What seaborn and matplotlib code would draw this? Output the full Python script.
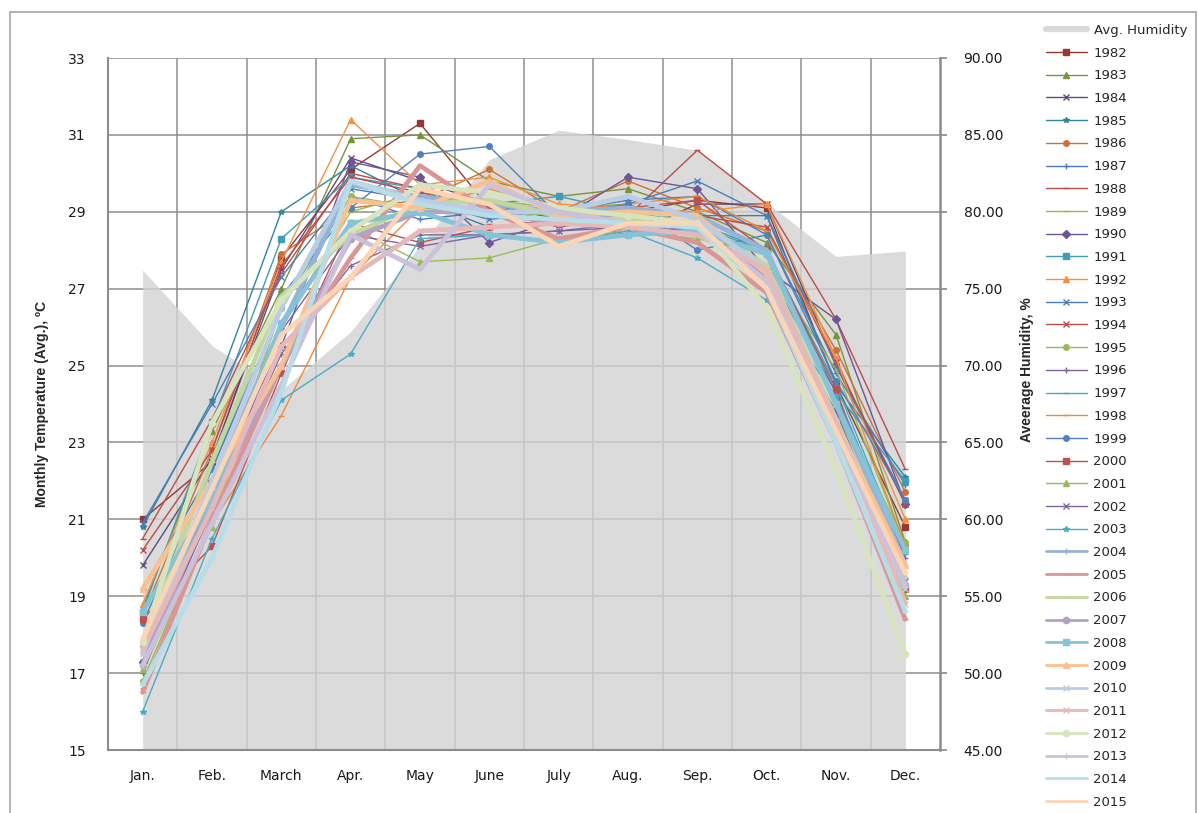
import numpy as np
import pandas as pd
import matplotlib
matplotlib.use("Agg")
import matplotlib.pyplot as plt
import seaborn as sns
from matplotlib.lines import Line2D
from matplotlib.patches import Rectangle

months = ["Jan.", "Feb.", "March", "Apr.", "May", "June", "July", "Aug.", "Sep.", "Oct.", "Nov.", "Dec."]
humidity = [76.2, 71.3, 68.4, 72.2, 77.8, 83.4, 85.3, 84.7, 84.0, 80.6, 77.1, 77.45]

t1982 = [21.0, 22.5, 27.8, 30.1, 31.3, 29.1, 28.9, 29.0, 29.3, 29.1, 24.5, 20.8]
t1983 = [18.7, 23.3, 27.0, 30.9, 31.0, 29.8, 29.4, 29.6, 29.0, 28.2, 25.8, 20.4]
t1984 = [19.8, 22.6, 27.5, 30.4, 29.8, 29.2, 28.8, 28.4, 29.2, 29.2, 25.0, 21.4]
t1985 = [20.8, 24.1, 29.0, 30.2, 29.3, 28.6, 28.8, 29.1, 28.9, 28.9, 24.5, 22.1]
t1986 = [18.5, 22.8, 27.9, 29.1, 29.3, 30.1, 29.0, 29.8, 29.1, 28.5, 25.4, 21.7]
t1987 = [19.2, 22.3, 26.5, 29.4, 28.8, 29.0, 29.0, 29.3, 29.4, 28.4, 24.8, 21.9]
t1988 = [20.5, 23.6, 27.4, 30.0, 29.6, 29.1, 28.6, 28.9, 30.6, 29.2, 26.2, 22.3]
t1989 = [17.5, 21.5, 26.0, 29.0, 29.5, 29.3, 29.1, 29.2, 28.6, 27.6, 24.9, 20.3]
t1990 = [17.3, 22.0, 25.5, 30.3, 29.9, 28.2, 28.8, 29.9, 29.6, 27.5, 26.2, 21.4]
t1991 = [18.6, 23.5, 28.3, 29.9, 29.6, 29.2, 29.4, 29.0, 28.7, 28.0, 24.3, 22.0]
t1992 = [18.8, 23.0, 27.7, 31.4, 29.7, 29.9, 29.2, 29.1, 29.0, 29.2, 25.2, 21.0]
t1993 = [20.9, 24.0, 27.3, 29.6, 29.3, 28.8, 29.0, 29.2, 29.8, 28.9, 25.0, 21.5]
t1994 = [20.2, 22.8, 27.6, 29.9, 29.5, 29.1, 28.7, 29.0, 28.9, 28.6, 25.1, 21.4]
t1995 = [16.8, 21.0, 26.5, 29.4, 29.1, 29.0, 28.9, 28.8, 28.7, 27.9, 24.0, 20.4]
t1996 = [17.0, 21.3, 25.3, 27.6, 28.4, 28.4, 28.5, 28.6, 28.5, 27.5, 24.3, 20.0]
t1997 = [17.7, 21.6, 26.0, 28.7, 29.0, 29.2, 28.9, 28.8, 28.6, 28.0, 24.5, 20.1]
t1998 = [16.6, 20.9, 23.7, 27.3, 29.1, 29.6, 29.0, 29.2, 29.4, 28.5, 25.2, 20.3]
t1999 = [18.3, 22.3, 26.8, 29.1, 30.5, 30.7, 28.9, 29.2, 28.0, 28.4, 24.6, 21.5]
t2000 = [18.4, 20.3, 24.8, 28.7, 28.2, 28.6, 28.8, 29.1, 29.3, 28.0, 24.4, 19.2]
t2001 = [17.1, 20.8, 26.7, 28.6, 27.7, 27.8, 28.3, 28.5, 28.3, 27.9, 23.9, 19.0]
t2002 = [17.3, 21.2, 25.9, 28.4, 28.1, 28.4, 28.5, 28.7, 28.5, 27.0, 23.8, 19.4]
t2003 = [16.0, 20.5, 24.1, 25.3, 28.3, 28.4, 28.2, 28.5, 27.8, 26.7, 24.2, 20.2]
t2004 = [17.7, 21.8, 26.0, 29.7, 29.4, 29.2, 29.0, 29.1, 28.9, 28.0, 24.0, 19.8]
t2005 = [16.5, 21.0, 25.0, 27.8, 30.2, 29.0, 28.3, 28.6, 28.2, 26.9, 23.0, 18.4]
t2006 = [17.8, 22.5, 26.8, 28.4, 29.2, 29.3, 28.9, 28.8, 28.7, 27.6, 23.6, 19.5]
t2007 = [17.2, 21.5, 25.0, 28.3, 29.0, 29.0, 28.7, 29.0, 28.5, 27.3, 23.2, 19.3]
t2008 = [18.6, 21.5, 26.1, 28.7, 29.0, 28.4, 28.2, 28.4, 28.5, 27.9, 24.0, 20.2]
t2009 = [19.2, 22.0, 25.0, 29.3, 29.1, 29.8, 28.9, 29.0, 28.9, 27.4, 23.5, 19.8]
t2010 = [17.5, 22.0, 26.5, 29.8, 29.3, 29.0, 29.0, 29.4, 28.8, 27.5, 23.5, 19.2]
t2011 = [17.6, 21.3, 25.5, 27.3, 28.5, 28.6, 28.7, 28.6, 28.4, 27.5, 23.5, 18.8]
t2012 = [17.8, 23.5, 26.7, 28.5, 29.7, 29.5, 29.1, 28.9, 28.7, 26.5, 22.3, 17.5]
t2013 = [17.2, 20.9, 24.5, 28.4, 27.5, 29.7, 29.0, 28.7, 28.6, 27.2, 23.2, 19.3]
t2014 = [16.7, 20.0, 24.3, 29.8, 29.2, 28.9, 28.8, 28.7, 28.6, 27.0, 23.0, 18.6]
t2015 = [17.9, 21.8, 25.8, 27.3, 29.6, 29.2, 28.1, 28.7, 28.7, 27.0, 23.3, 19.6]

years = list(range(1982, 2016))
temps = [t1982, t1983, t1984, t1985, t1986, t1987, t1988, t1989, t1990, t1991,
         t1992, t1993, t1994, t1995, t1996, t1997, t1998, t1999, t2000, t2001,
         t2002, t2003, t2004, t2005, t2006, t2007, t2008, t2009, t2010, t2011,
         t2012, t2013, t2014, t2015]

colors = ["#953735", "#77933C", "#604A7B", "#31859C", "#CD7236", "#4A7EBB",
          "#BE4B48", "#98B954", "#6E5596", "#3F9DB8", "#F39244", "#4A7EBB",
          "#BE4B48", "#98B954", "#8064A2", "#46AAC5", "#F08A3A", "#4F81BD",
          "#C0504D", "#9BBB59", "#8064A2", "#4BACC6", "#95B3D7", "#D99694",
          "#C3D69B", "#B3A2C7", "#86C3D6", "#FAC090", "#B9CDE5", "#E6B9B8",
          "#D7E4BD", "#CCC1DA", "#B7DEE8", "#FCD5B5"]
markers = ["s", "^", "x", "*", "o", "+", "_", "_", "D", "s", "^", "x",
           "x", "o", "+", "_", "_", "o", "s", "^", "x", "*", "+", "_",
           "_", "o", "s", "^", "x", "x", "o", "+", "_", "_"]

df = pd.DataFrame({
    "month_idx": np.tile(np.arange(len(months)), len(years)),
    "temp": np.concatenate(temps),
    "year": np.repeat(years, len(months)),
})

sns.set_theme(style="white")
plt.rcParams["font.family"] = ["DejaVu Sans"]

fig = plt.figure(figsize=(11.99, 8.13), dpi=100)
W, H = 1199, 813
ax = fig.add_axes([108 / W, 1 - 750 / H, (940 - 108) / W, (750 - 58) / H])
ax2 = ax.twinx()
ax.set_zorder(2)
ax2.set_zorder(1)
ax.patch.set_visible(False)

grid_col = "#8E8E8E"
xs = np.arange(len(months))
ax2.fill_between(xs, 45, humidity, color="#D3D3D3", alpha=0.8, lw=0, zorder=2,
                 label="Avg. Humidity")
ax2.set_ylim(45, 90)
ax2.set_yticks(np.arange(45, 90.1, 5))
ax2.set_yticklabels([f"{v:.2f}" for v in np.arange(45, 90.1, 5)])
ax2.set_axisbelow(True)
ax2.xaxis.set_visible(True)
ax.set_xticks(xs)
ax.set_xticks(np.arange(0.5, len(months) - 1, 1), minor=True)
ax2.tick_params(axis="x", which="both", bottom=False, top=False,
                labelbottom=False, labeltop=False)
ax2.grid(axis="y", which="major", color=grid_col, lw=1.1)
ax2.grid(axis="x", which="minor", color=grid_col, lw=1.1)
ax2.grid(axis="x", which="major", visible=False)

for i, yr in enumerate(years):
    sub = df[df["year"] == yr]
    thick = yr >= 2004
    sns.lineplot(data=sub, x="month_idx", y="temp", ax=ax, color=colors[i],
                 marker=markers[i], markersize=4 if not thick else 4.5,
                 markeredgecolor=colors[i], markeredgewidth=1.0,
                 lw=3.4 if thick else 1.0, label=str(yr), sort=False,
                 errorbar=None)

if ax.get_legend() is not None:
    ax.get_legend().remove()

ax.set_xlim(-0.5, len(months) - 0.5)
ax.set_ylim(15, 33)
ax.set_yticks(np.arange(15, 33.1, 2))
ax.set_xticklabels(months)
ax.set_xlabel("")
ax.set_ylabel("")
ax.grid(False)

tick_font = dict(labelsize=10, labelcolor="#1a1a1a")
ax.tick_params(axis="y", length=0, pad=16, **tick_font)
ax.tick_params(axis="x", which="major", length=0, pad=14, **tick_font)
ax.tick_params(axis="x", which="minor", length=0)
ax2.tick_params(axis="y", length=5, width=1.2, color="#888888", pad=12, **tick_font)

for s in ["top", "right"]:
    ax.spines[s].set_visible(False)
for s in ["left", "bottom"]:
    ax.spines[s].set_color("#8C8C8C")
    ax.spines[s].set_linewidth(1.5)
for s in ["top", "left", "bottom"]:
    ax2.spines[s].set_visible(False)
ax2.spines["right"].set_color("#8C8C8C")
ax2.spines["right"].set_linewidth(1.8)

label_font = ["Liberation Sans Narrow", "Liberation Sans", "DejaVu Sans"]
fig.text(42 / W, 1 - 404 / H, "Monthly Temperature (Avg.), \u00baC", rotation=90,
         ha="center", va="center", fontsize=10, fontweight="bold", family=label_font)
fig.text(1027 / W, 1 - 370 / H, "Aveerage Humidity, %", rotation=90,
         ha="center", va="center", fontsize=10, fontweight="bold", family=label_font)

h2, l2 = ax.get_legend_handles_labels()
area_handle = Line2D([0], [0], color="#DADADA", lw=4.5)
handles = [area_handle] + h2
labels = ["Avg. Humidity"] + l2
leg = fig.legend(handles, labels, loc="upper left", bbox_to_anchor=(1046 / W, 1 - 24 / H),
                 frameon=False, fontsize=9.5, labelspacing=0.735, handlelength=3.1,
                 handletextpad=0.5, borderaxespad=0, borderpad=0)
for line in leg.get_lines()[1:]:
    if line.get_linewidth() > 2:
        line.set_linewidth(2.0)

fig.patches.append(Rectangle((10 / W, -0.02), (1196 - 10) / W, 1.02 - 12 / H,
                             transform=fig.transFigure, fill=False,
                             edgecolor="#A6A6A6", lw=1.2))

fig.savefig("out.png", dpi=100)
